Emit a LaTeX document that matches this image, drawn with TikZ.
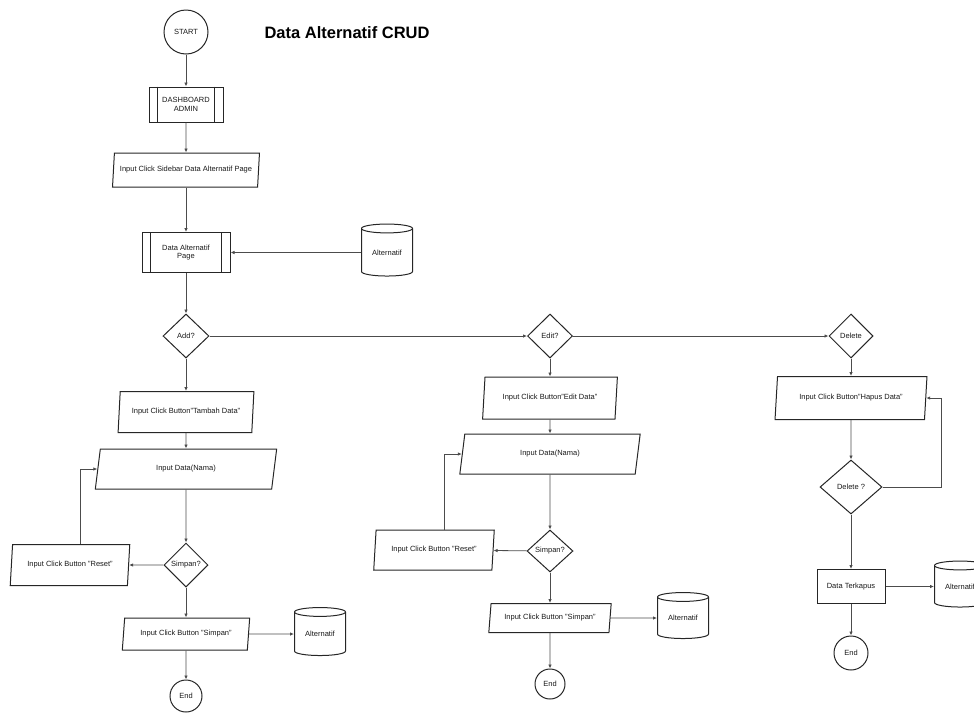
\documentclass[tikz,border=0pt]{standalone}
\usepackage{fontspec}
\setmainfont{Liberation Sans}
\usetikzlibrary{shapes.geometric,arrows.meta}
\begin{document}
\begin{tikzpicture}[x=1pt,y=-1pt,
  every node/.style={font=\fontsize{7.5}{8.6}\selectfont, align=center, text=black!90},
  shapeline/.style={draw=black!85, line width=1pt},
  term/.style={shapeline, circle, inner sep=0pt},
  proc/.style={shapeline, rectangle, inner sep=0pt},
  io/.style={shapeline, trapezium, trapezium left angle=76, trapezium right angle=104,
             trapezium stretches=true, inner sep=0pt},
  dec/.style={shapeline, diamond, inner sep=0pt},
  db/.style={shapeline, cylinder, shape border rotate=90, aspect=0.3, inner sep=0pt},
  arr/.style={draw=black!70, line width=0.8pt, -{Latex[length=4pt,width=3.5pt]}},
]
\useasboundingbox (0,0) rectangle (974,713);
\clip (0,0) rectangle (974,713);

% ---- main trunk ----
\node[term, minimum size=44] (start) at (186,32) {START};
\node[anchor=west, font=\bfseries\fontsize{16.5}{19}\selectfont, text=black] (title) at (261,33) {Data Alternatif CRUD};
\node[proc, minimum width=74, minimum height=35] (dash) at (186,104.5) {DASHBOARD\\ADMIN};
\node[io, minimum width=147, minimum height=34] (side) at (186,170) {Input Click Sidebar Data Alternatif Page};
\node[proc, minimum width=88, minimum height=40] (page) at (186,252.5) {Data Alternatif\\Page};
\node[db, minimum width=51, minimum height=52] (db0) at (387,252.5) {Alternatif};
\node[dec, minimum width=46, minimum height=44] (add) at (186,336) {Add?};
\node[dec, minimum width=45, minimum height=44] (edit) at (550,336) {Edit?};
\node[dec, minimum width=44, minimum height=44] (del) at (851,336) {Delete};

% sub-process bars
\foreach \n in {dash,page}
  \draw[shapeline] ([xshift=9pt]\n.north west) -- ([xshift=9pt]\n.south west)
                   ([xshift=-9pt]\n.north east) -- ([xshift=-9pt]\n.south east);

% ---- add branch ----
\node[io, minimum width=136, minimum height=41] (tambah) at (186,412) {Input Click Button"Tambah Data"};
\node[io, minimum width=182, minimum height=40] (inA) at (186,469) {Input Data(Nama)};
\node[dec, minimum width=44, minimum height=44] (simA) at (186,565) {Simpan?};
\node[io, minimum width=120, minimum height=41] (resA) at (70,565) {Input Click Button "Reset"};
\node[io, minimum width=128, minimum height=32] (svA) at (186,634) {Input Click Button "Simpan"};
\node[db, minimum width=51, minimum height=48] (dbA) at (320,634) {Alternatif};
\node[term, minimum size=32] (endA) at (186,696) {End};

% ---- edit branch ----
\node[io, minimum width=136, minimum height=42] (editbtn) at (550,398) {Input Click Button"Edit Data"};
\node[io, minimum width=181, minimum height=40] (inB) at (550,454) {Input Data(Nama)};
\node[dec, minimum width=46, minimum height=42] (simB) at (550,551) {Simpan?};
\node[io, minimum width=121, minimum height=40] (resB) at (434,550) {Input Click Button "Reset"};
\node[io, minimum width=123, minimum height=29] (svB) at (550,618) {Input Click Button "Simpan"};
\node[db, minimum width=51, minimum height=46] (dbB) at (683,618) {Alternatif};
\node[term, minimum size=30] (endB) at (550,684) {End};

% ---- delete branch ----
\node[io, minimum width=152, minimum height=43] (hapus) at (851,398) {Input Click Button"Hapus Data"};
\node[dec, minimum width=62, minimum height=54] (delq) at (851,487) {Delete ?};
\node[proc, minimum width=68, minimum height=34] (gone) at (851,586.5) {Data Terkapus};
\node[db, minimum width=51, minimum height=46] (dbC) at (960,586.5) {Alternatif};
\node[term, minimum size=34] (endC) at (851,653) {End};
\coordinate (loopx) at (941,487);

% ---- connectors ----
\draw[arr] (start) -- (dash);
\draw[arr] (dash) -- (side);
\draw[arr] (side) -- (page);
\draw[arr] (db0) -- (page);
\draw[arr] (page) -- (add);
\draw[arr] (add) -- (edit);
\draw[arr] (edit) -- (del);

\draw[arr] (add) -- (tambah);
\draw[arr] (tambah) -- (inA);
\draw[arr] (inA) -- (simA);
\draw[arr] (simA) -- (resA);
\draw[arr] ([xshift=10pt]resA.north) |- (inA.west);
\draw[arr] (simA) -- (svA);
\draw[arr] (svA) -- (dbA);
\draw[arr] (svA) -- (endA);

\draw[arr] (edit) -- (editbtn);
\draw[arr] (editbtn) -- (inB);
\draw[arr] (inB) -- (simB);
\draw[arr] (simB) -- (resB);
\draw[arr] ([xshift=10pt]resB.north) |- (inB.west);
\draw[arr] (simB) -- (svB);
\draw[arr] (svB) -- (dbB);
\draw[arr] (svB) -- (endB);

\draw[arr] (del) -- (hapus);
\draw[arr] (hapus) -- (delq);
\draw[arr] (delq.east) -- (loopx) |- (hapus.east);
\draw[arr] (delq) -- (gone);
\draw[arr] (gone) -- (dbC);
\draw[arr] (gone) -- (endC);
\end{tikzpicture}
\end{document}
